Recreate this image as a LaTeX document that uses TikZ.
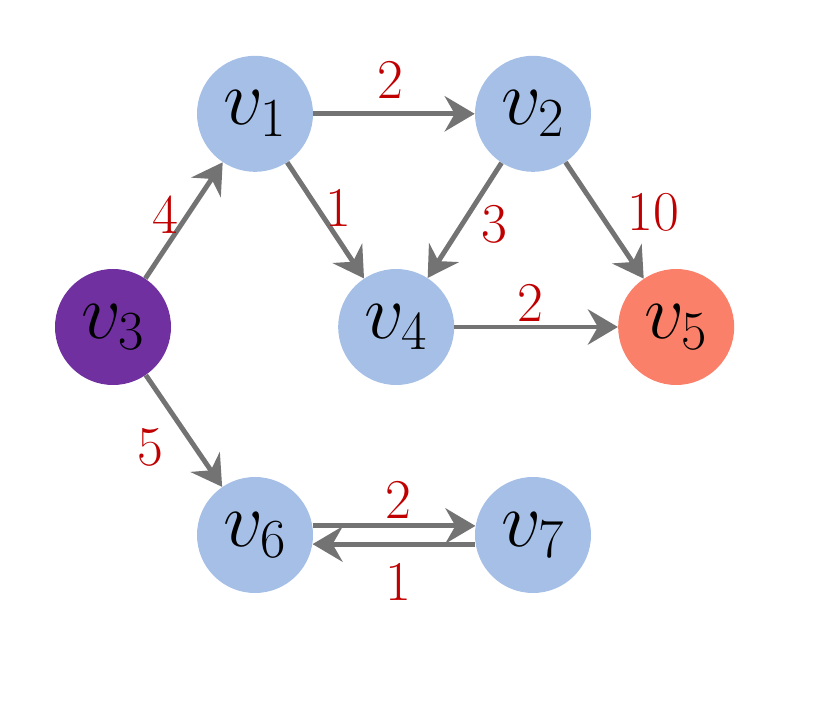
\documentclass[tikz,border=0pt]{standalone}
\usepackage{fix-cm}
\usepackage{tikz}
\usetikzlibrary{positioning, arrows.meta}

\definecolor{vblue}{RGB}{165,191,230}
\definecolor{vpurple}{RGB}{112,48,160}
\definecolor{vsalmon}{RGB}{250,128,106}
\definecolor{wred}{RGB}{192,0,0}
\definecolor{egray}{RGB}{115,115,115}

\begin{document}
\begin{tikzpicture}[
    on grid,
    vert/.style={circle, minimum size=2.9cm, inner sep=0pt, fill=vblue, font=\fontsize{56}{60}\selectfont},
    edge/.style={draw=egray, line width=3.5pt, -{Stealth[length=0.75cm, width=0.88cm, inset=0.25cm]}},
    weight/.style={text=wred, font=\fontsize{40}{44}\selectfont, inner sep=0pt},
]

\useasboundingbox (-2.825,-9.4) rectangle (17.6,8.175);

% Draw the vertices
\node[vert, fill=vpurple] (V3) at (0,0) {$v_3$};
\node[vert, above right=5.33cm and 3.55cm of V3] (V1) {$v_1$};
\node[vert, right=6.95cm of V1] (V2) {$v_2$};
\node[vert, right=7.08cm of V3] (V4) {$v_4$};
\node[vert, fill=vsalmon, right=7cm of V4] (V5) {$v_5$};
\node[vert, below right=5.2cm and 3.55cm of V3] (V6) {$v_6$};
\node[vert, right=6.95cm of V6] (V7) {$v_7$};

% Draw the weighted edges
\draw[edge] (V1) -- node[weight, xshift=-0.1cm, yshift=0.85cm] {2} (V2);
\draw[edge] (V1) -- node[weight, xshift=0.31cm, yshift=0.31cm] {1} (V4);
\draw[edge] (V2) -- node[weight, xshift=0.74cm, yshift=-0.11cm] {3} (V4);
\draw[edge] (V2) -- node[weight, xshift=1.21cm, yshift=0.21cm] {10} (V5);
\draw[edge] (V3) -- node[weight, xshift=-0.475cm, yshift=0.14cm] {4} (V1);
\draw[edge] (V4) -- node[weight, xshift=-0.15cm, yshift=0.6cm] {2} (V5);
\draw[edge] (V3) -- node[weight, xshift=-0.85cm, yshift=-0.4cm] {5} (V6);
\draw[edge] (V6.9) -- node[weight, xshift=0.1cm, yshift=0.65cm] {2} (V7.171);
\draw[edge] (V7.189) -- node[weight, xshift=0.1cm, yshift=-0.95cm] {1} (V6.351);

\end{tikzpicture}
\end{document}
